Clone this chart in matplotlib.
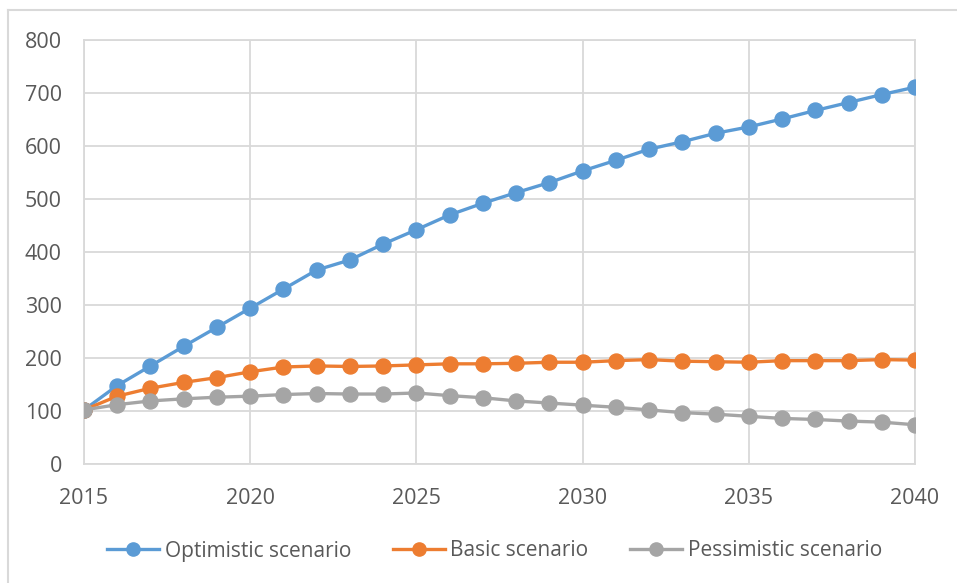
import matplotlib
matplotlib.use("Agg")
import matplotlib.pyplot as plt
from matplotlib.lines import Line2D

years = list(range(2015, 2041))
optimistic = [102, 148, 185, 222, 258, 294, 330, 366, 385, 415, 442, 470, 492,
              512, 531, 553, 573, 594, 608, 624, 636, 651, 667, 682, 697, 711]
basic = [102, 128, 143, 154, 163, 174, 183, 185, 184, 185, 187, 189, 189,
         190, 192, 192, 195, 197, 194, 193, 192, 195, 195, 195, 197, 196]
pessimistic = [102, 112, 119, 123, 126, 128, 131, 133, 132, 132, 134, 129, 125,
               119, 115, 111, 107, 102, 97, 94, 90, 86, 84, 81, 79, 74]
series_names = ["Optimistic scenario", "Basic scenario", "Pessimistic scenario"]
colors = ["#5B9BD5", "#ED7D31", "#A5A5A5"]
x_ticks = [2015, 2020, 2025, 2030, 2035, 2040]
y_ticks = [0, 100, 200, 300, 400, 500, 600, 700, 800]

plt.rcParams["font.family"] = ["Open Sans", "DejaVu Sans"]

W, H = 957, 583
FS = 15.5
LFS = 15
fig = plt.figure(figsize=(W / 100, H / 100), dpi=100)
fig.patch.set_facecolor("white")

# chart-area frame (top and left edges visible)
fig.add_artist(Line2D([8 / W, 8 / W], [0, 1 - 10 / H], transform=fig.transFigure,
                      color="#d9d9d9", lw=1.5))
fig.add_artist(Line2D([8 / W, 1], [1 - 10 / H, 1 - 10 / H], transform=fig.transFigure,
                      color="#d9d9d9", lw=1.5))

left, right, top, bottom = 84, 915, 40, 464
ax = fig.add_axes([left / W, 1 - bottom / H, (right - left) / W, (bottom - top) / H])

for vals, name, c in zip([optimistic, basic, pessimistic], series_names, colors):
    ax.plot(years, vals, color=c, lw=2.4, marker="o", markersize=10.8,
            label=name, zorder=3, solid_capstyle="round")

ax.set_xlim(2015, 2040)
ax.set_ylim(0, 800)
ax.set_xticks(x_ticks)
ax.set_yticks(y_ticks)
ax.grid(True, color="#d9d9d9", lw=1.3, zorder=0)
for s in ax.spines.values():
    s.set_color("#d9d9d9")
    s.set_linewidth(1.3)
ax.tick_params(length=0, labelsize=FS, colors="#595959")
ax.tick_params(axis="y", pad=16)
ax.tick_params(axis="x", pad=17)
for lab in ax.get_xticklabels() + ax.get_yticklabels():
    lab.set_color("#595959")
ax.set_axisbelow(True)

handles = [Line2D([0], [0], color=c, lw=2.4, marker="o", markersize=9.5) for c in colors]
fig.legend(handles, series_names, loc="center", bbox_to_anchor=(494.5 / W, 1 - 551 / H),
           ncol=3, frameon=False, fontsize=LFS, handlelength=2.5, handletextpad=0.28,
           columnspacing=2.0, labelcolor="#595959", borderpad=0, borderaxespad=0)

fig.savefig("out.png", dpi=100, facecolor="white")
